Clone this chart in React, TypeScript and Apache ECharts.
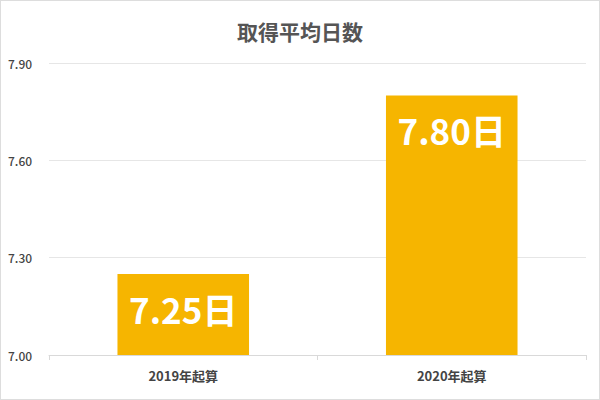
import React, { useEffect, useRef } from 'react';
import * as echarts from 'echarts';

const categories = ['2019年起算', '2020年起算'];
const values = [7.25, 7.8];
const yTicks = { min: 7.0, max: 7.9, interval: 0.3 };

const FONT = '"Noto Sans CJK JP", "Noto Sans", sans-serif';

const App: React.FC = () => {
  const chartRef = useRef<HTMLDivElement>(null);

  useEffect(() => {
    document.body.style.margin = '0';
    if (!chartRef.current) return;
    const chart = echarts.init(chartRef.current, undefined, { renderer: 'svg' });

    const option: echarts.EChartsOption = {
      animation: false,
      textStyle: { fontFamily: FONT },
      title: {
        text: '取得平均日数',
        left: 'center',
        top: 14,
        textStyle: { fontSize: 21, fontWeight: 'bold', color: '#555', fontFamily: FONT },
      },
      grid: { left: 48, right: 13, top: 62, bottom: 44 },
      xAxis: {
        type: 'category',
        data: categories,
        axisLine: { lineStyle: { color: '#d9d9d9' } },
        axisTick: { show: true, lineStyle: { color: '#d9d9d9' } },
        axisLabel: { color: '#444', fontSize: 13, fontWeight: 'bold', margin: 14, fontFamily: FONT },
      },
      yAxis: {
        type: 'value',
        min: yTicks.min,
        max: yTicks.max,
        interval: yTicks.interval,
        axisLine: { show: false },
        axisTick: { show: false },
        splitLine: { lineStyle: { color: '#e6e6e6' } },
        axisLabel: {
          color: '#444',
          fontSize: 12,
          fontWeight: 500,
          align: 'left',
          margin: 41,
          formatter: (v: number) => v.toFixed(2),
          fontFamily: FONT,
        },
      },
      series: [
        {
          type: 'bar',
          data: values,
          barWidth: '49%',
          itemStyle: { color: '#F6B500' },
          label: {
            show: true,
            position: 'insideTop',
            distance: 17,
            color: '#fff',
            fontSize: 35,
            fontWeight: 'bold',
            fontFamily: FONT,
            formatter: (p: any) => `${p.value.toFixed(2)}日`,
          },
        },
      ],
    };

    chart.setOption(option);
    return () => {
      chart.dispose();
    };
  }, []);

  return (
    <div
      ref={chartRef}
      style={{ width: 600, height: 400, boxSizing: 'border-box', border: '1px solid #ddd' }}
    ></div>
  );
};

export default App;
